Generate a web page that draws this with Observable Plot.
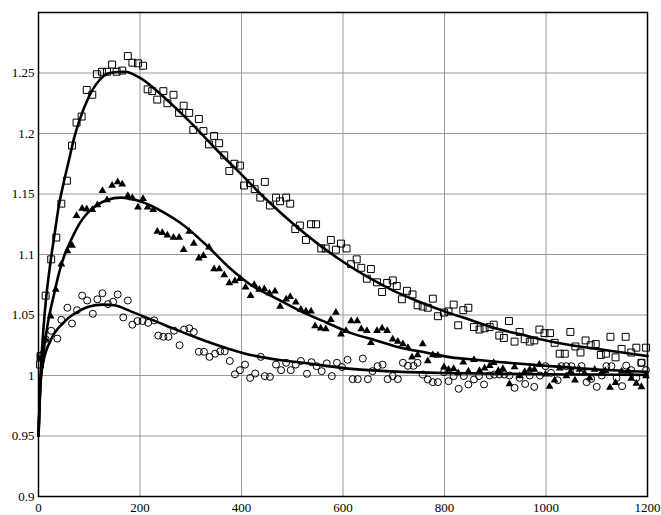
<!DOCTYPE html>
<html>
<head>
<meta charset="utf-8">
<script src="https://cdn.jsdelivr.net/npm/d3@7"></script>
<script src="https://cdn.jsdelivr.net/npm/@observablehq/plot@0.6"></script>
<style>
  html, body { margin: 0; padding: 0; background: white; }
  svg text { font-family: "Liberation Serif", "Times New Roman", "DejaVu Serif", serif; }
</style>
</head>
<body>
<div id="chart"></div>
<script>
const xTicks = [0, 200, 400, 600, 800, 1000, 1200];
const yTicks = [0.9, 0.95, 1, 1.05, 1.1, 1.15, 1.2, 1.25];

const squares = [[3,1.009],[4,1.016],[14,1.066],[25,1.096],[35,1.114],[45,1.142],[56,1.161],[66,1.19],[75,1.209],[85,1.214],[95,1.236],[106,1.232],[115,1.249],[125,1.251],[135,1.251],[145,1.257],[154,1.251],[165,1.252],[176,1.264],[185,1.2585],[196,1.258],[206,1.256],[215,1.2365],[224,1.235],[234,1.228],[246,1.235],[254,1.225],[266,1.232],[277,1.217],[286,1.223],[297,1.217],[305,1.203],[316,1.212],[325,1.202],[336,1.191],[346,1.198],[356,1.192],[366,1.182],[376,1.169],[386,1.175],[397,1.1735],[405,1.157],[417,1.159],[426,1.154],[437,1.147],[446,1.16],[456,1.1405],[468,1.147],[476,1.144],[488,1.147],[496,1.142],[506,1.121],[515,1.124],[527,1.112],[537,1.125],[547,1.125],[557,1.105],[566,1.105],[576,1.112],[586,1.104],[596,1.109],[607,1.105],[616,1.092],[627,1.096],[636,1.089],[647,1.08],[655,1.088],[667,1.077],[677,1.069],[687,1.0765],[698,1.0786],[706,1.074],[716,1.063],[726,1.07],[737,1.067],[747,1.058],[757,1.057],[767,1.056],[777,1.0635],[787,1.049],[799,1.052],[808,1.053],[818,1.0586],[827,1.0415],[837,1.054],[847,1.056],[858,1.04],[869,1.038],[879,1.039],[889,1.04],[897,1.042],[908,1.033],[917,1.031],[927,1.045],[938,1.028],[948,1.036],[958,1.03],[968,1.028],[977,1.029],[987,1.038],[997,1.035],[1008,1.035],[1017,1.027],[1027,1.018],[1037,1.018],[1048,1.036],[1058,1.024],[1068,1.019],[1078,1.029],[1088,1.025],[1098,1.026],[1108,1.017],[1118,1.018],[1127,1.032],[1137,1.015],[1149,1.022],[1157,1.032],[1168,1.019],[1178,1.023],[1188,1.0105],[1197,1.023]];

const triangles = [[3,1.014],[9,1.02],[14,1.03],[24,1.049],[34,1.071],[45,1.092],[57,1.103],[66,1.1075],[75,1.132],[86,1.138],[95,1.1375],[106,1.137],[116,1.141],[126,1.1526],[135,1.145],[145,1.157],[156,1.16],[165,1.158],[176,1.1485],[185,1.1466],[196,1.139],[206,1.146],[215,1.139],[226,1.137],[234,1.119],[244,1.118],[254,1.116],[266,1.114],[277,1.114],[286,1.104],[297,1.119],[306,1.109],[316,1.097],[325,1.099],[336,1.106],[346,1.088],[356,1.088],[366,1.083],[376,1.0765],[387,1.078],[397,1.08],[408,1.073],[418,1.066],[425,1.075],[435,1.071],[445,1.0715],[455,1.068],[466,1.0696],[476,1.057],[488,1.063],[496,1.065],[507,1.0605],[517,1.0545],[527,1.053],[537,1.053],[545,1.041],[556,1.039],[566,1.0385],[576,1.046],[586,1.052],[596,1.034],[606,1.037],[616,1.045],[628,1.045],[636,1.0385],[647,1.037],[655,1.027],[667,1.037],[677,1.039],[687,1.037],[698,1.03],[708,1.028],[718,1.026],[728,1.023],[736,1.015],[747,1.017],[757,1.026],[767,1.012],[777,1.017],[787,1.0165],[799,1.007],[808,1.005],[818,1.0055],[827,1.002],[837,1.011],[847,1.0036],[858,1.013],[869,1.004],[879,1.006],[889,1.008],[897,1.0105],[906,1.004],[915,1.0055],[928,0.993],[938,1.007],[948,0.9995],[958,1.003],[968,1.005],[977,1.005],[987,1.009],[999,1.001],[1007,0.991],[1017,0.996],[1027,1.006],[1040,0.9995],[1048,1.003],[1057,0.996],[1066,1.005],[1076,1.002],[1086,0.998],[1096,1.005],[1109,1.002],[1117,1.004],[1126,0.99],[1137,0.994],[1149,1.0036],[1162,1.0036],[1168,0.9975],[1178,0.9934],[1188,0.9906],[1197,0.9995]];

const circles = [[4,1.016],[14,1.03],[25,1.037],[37,1.0305],[45,1.046],[57,1.056],[66,1.043],[76,1.054],[86,1.066],[96,1.062],[107,1.051],[116,1.063],[126,1.068],[137,1.059],[147,1.061],[156,1.067],[167,1.048],[176,1.062],[185,1.042],[195,1.045],[205,1.045],[216,1.0435],[228,1.0456],[236,1.033],[246,1.032],[256,1.032],[267,1.037],[278,1.025],[287,1.038],[297,1.039],[306,1.036],[316,1.0196],[326,1.0196],[337,1.0154],[348,1.018],[358,1.02],[367,1.02],[377,1.012],[387,1.001],[397,1.0044],[407,1.009],[417,0.998],[427,1.0016],[438,1.0154],[446,0.9995],[456,0.9989],[468,1.009],[478,1.0044],[488,1.0105],[497,1.0044],[507,1.009],[517,1.012],[529,1.0014],[538,1.011],[548,1.0077],[558,1.0036],[568,1.01],[578,0.9995],[588,1.0105],[598,1.007],[609,1.013],[619,0.997],[629,0.997],[639,1.014],[649,0.997],[658,1.0036],[668,1.0077],[678,1.009],[688,0.997],[698,0.9995],[708,0.997],[718,1.0105],[728,1.008],[739,1.008],[747,1.0105],[757,1.0008],[767,0.9967],[777,0.9945],[787,0.9945],[799,1.0027],[808,0.9953],[818,0.9995],[828,0.989],[838,0.9995],[847,0.9926],[858,0.9967],[868,0.9995],[878,0.9926],[889,1.0],[898,1.0008],[908,1.0008],[918,1.0008],[928,1.0],[938,0.9898],[948,0.998],[959,0.993],[968,1.0],[977,0.9906],[988,1.0],[999,1.0077],[1010,1.0022],[1023,0.9961],[1030,1.0077],[1040,1.0077],[1050,1.0077],[1060,1.0036],[1070,1.0077],[1080,0.9945],[1089,0.9972],[1100,0.9906],[1110,1.0],[1119,1.0077],[1129,1.0077],[1139,0.998],[1150,0.9912],[1158,1.0082],[1168,1.0044],[1178,0.998],[1188,1.0105],[1197,1.0044]];

const squareFit = [[0,0.95],[3,0.99],[6,1.015],[10,1.04],[15,1.064],[20,1.082],[25,1.098],[30,1.112],[40,1.14],[50,1.16],[60,1.178],[70,1.196],[80,1.21],[100,1.231],[120,1.244],[140,1.25],[170,1.251],[200,1.246],[250,1.229],[300,1.209],[350,1.187],[400,1.166],[450,1.145],[500,1.126],[550,1.109],[600,1.094],[650,1.081],[700,1.07],[750,1.061],[800,1.053],[850,1.046],[900,1.039],[950,1.034],[1000,1.029],[1050,1.025],[1100,1.022],[1150,1.019],[1200,1.016]];

const triangleFit = [[0,0.95],[3,0.985],[6,1.005],[10,1.02],[15,1.034],[20,1.047],[25,1.057],[30,1.066],[40,1.084],[50,1.098],[60,1.108],[70,1.117],[83,1.127],[96,1.134],[116,1.141],[135,1.145],[162,1.147],[200,1.144],[250,1.134],[280,1.126],[330,1.108],[379,1.088],[418,1.075],[467,1.064],[517,1.053],[566,1.044],[616,1.035],[665,1.029],[714,1.023],[763,1.019],[813,1.015],[862,1.013],[912,1.011],[1000,1.008],[1100,1.005],[1200,1.003]];

const circleFit = [[0,0.95],[2,0.975],[4,0.995],[10,1.012],[24,1.029],[50,1.044],[83,1.054],[100,1.057],[126,1.0586],[150,1.058],[182,1.053],[247,1.042],[313,1.031],[379,1.0215],[418,1.017],[478,1.0126],[517,1.0107],[616,1.0055],[714,1.003],[812,1.002],[912,1.0015],[1000,1.001],[1100,1.0008],[1200,1.0005]];

const serif = "'Liberation Serif', 'Times New Roman', 'DejaVu Serif', serif";

const chart = Plot.plot({
  width: 661,
  height: 515,
  marginLeft: 38,
  marginRight: 14,
  marginTop: 12,
  marginBottom: 19,
  style: "font-family: 'Liberation Serif', 'Times New Roman', 'DejaVu Serif', serif; font-size: 13px; color: black; background: white; overflow: visible;",
  x: { domain: [0, 1200] },
  y: { domain: [0.9, 1.3] },
  marks: [
    Plot.gridX(xTicks, { stroke: "#999", strokeOpacity: 1, strokeWidth: 1 }),
    Plot.gridY(yTicks, { stroke: "#999", strokeOpacity: 1, strokeWidth: 1 }),
    Plot.axisX(xTicks, { tickSize: 0, tickPadding: 6, tickFormat: d => String(d), label: null, fontSize: 13, fontFamily: serif }),
    Plot.axisY(yTicks, { tickSize: 0, tickPadding: 4, tickFormat: d => String(d), label: null, fontSize: 13, fontFamily: serif }),
    Plot.dot(squares, { x: d => d[0], y: d => d[1], symbol: "square", r: 3.9, stroke: "black", strokeWidth: 1, fill: "none" }),
    Plot.dot(circles, { x: d => d[0], y: d => d[1], symbol: "circle", r: 3.5, stroke: "black", strokeWidth: 1, fill: "none" }),
    Plot.dot(triangles, { x: d => d[0], y: d => d[1], symbol: "triangle", r: 2.9, stroke: "none", fill: "black" }),
    Plot.line(squareFit, { x: d => d[0], y: d => d[1], curve: "monotone-x", stroke: "black", strokeWidth: 2.6 }),
    Plot.line(triangleFit, { x: d => d[0], y: d => d[1], curve: "monotone-x", stroke: "black", strokeWidth: 2.6 }),
    Plot.line(circleFit, { x: d => d[0], y: d => d[1], curve: "monotone-x", stroke: "black", strokeWidth: 2.6 }),
    Plot.frame({ stroke: "black", strokeWidth: 1.5 })
  ]
});
document.getElementById("chart").appendChild(chart);
</script>
</body>
</html>
